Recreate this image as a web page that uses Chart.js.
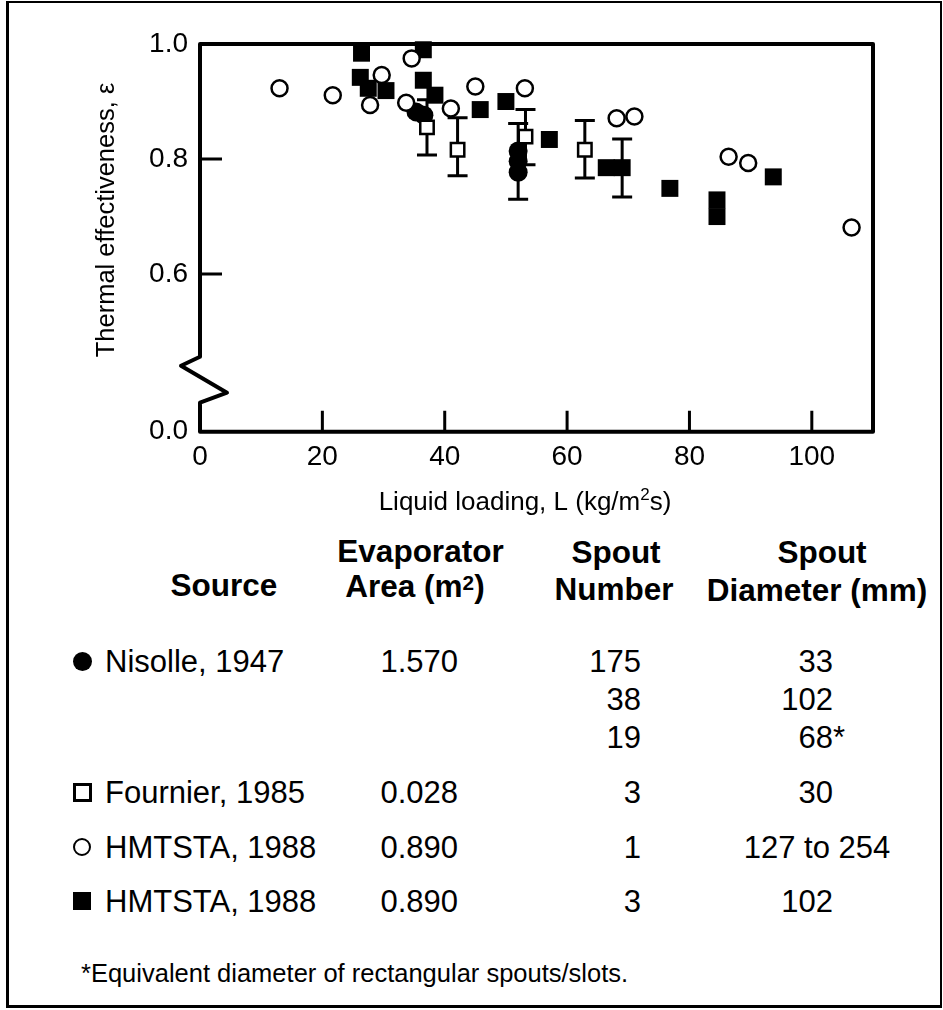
<!DOCTYPE html>
<html>
<head>
<meta charset="utf-8">
<script src="https://cdn.jsdelivr.net/npm/chart.js@4/dist/chart.umd.min.js"></script>
<style>
html, body { margin: 0; padding: 0; background: #fff; }
#wrap { position: relative; width: 943px; height: 1010px; overflow: hidden; background: #fff;
  font-family: "Liberation Sans", Arial, Helvetica, sans-serif; color: #000; }
#c { position: absolute; left: 0; top: 0; }
.t { position: absolute; white-space: nowrap; line-height: 1; }
.t sup { font-size: 0.66em; line-height: 0; vertical-align: 7px; }
.star { position: absolute; }
#frame { position: absolute; left: 6px; top: 1px; width: 931px; height: 1002px; border: 3px solid #000; border-top-width: 2px; border-right-width: 2px; }
.mk { position: absolute; box-sizing: border-box; }
</style>
</head>
<body>
<div id="wrap">
  <div id="frame"></div>
  <canvas id="c" width="943" height="520" style="width:943px;height:520px"></canvas>
</div>
<script>
// ---------------- data ----------------
const xTickValues = [0, 20, 40, 60, 80, 100];
const yTickValues = [0.326, 0.6, 0.8, 1.0];   // 0.326 = axis break position, labelled "0.0"
const yTickLabels = ['0.0', '0.6', '0.8', '1.0'];

// Nisolle, 1947 (filled circles)
const nisolleX = [35.3, 36.6, 52.0, 52.0, 52.0];
const nisolleY = [0.882, 0.876, 0.814, 0.796, 0.777];
const nisolleErrLow  = [null, null, null, 0.730, null];
const nisolleErrHigh = [null, null, null, 0.862, null];

// Fournier, 1985 (open squares with error bars)
const fournierX = [37.1, 42.1, 53.2, 62.9];
const fournierY = [0.855, 0.816, 0.839, 0.816];
const fournierErrLow  = [0.807, 0.771, 0.790, 0.767];
const fournierErrHigh = [0.903, 0.872, 0.886, 0.867];

// HMTSTA, 1988 - 1 spout (open circles)
const hmtstaOpenX = [13.0, 21.7, 27.8, 29.7, 33.7, 34.6, 41.0, 45.0, 53.1, 68.1, 71.0, 86.4, 89.6, 106.5];
const hmtstaOpenY = [0.923, 0.911, 0.894, 0.946, 0.898, 0.975, 0.888, 0.926, 0.923, 0.871, 0.874, 0.804, 0.793, 0.681];

// HMTSTA, 1988 - 3 spouts (filled squares)
const hmtstaFilledX = [26.4, 26.2, 27.5, 30.4, 36.5, 36.5, 38.4, 45.8, 50.0, 57.1, 66.4, 69.0, 76.8, 84.5, 84.5, 93.7];
const hmtstaFilledY = [0.984, 0.942, 0.923, 0.919, 0.990, 0.937, 0.911, 0.886, 0.900, 0.834, 0.785, 0.785, 0.749, 0.729, 0.700, 0.769];
const hmtstaFilledErrLow  = [null, null, null, null, null, null, null, null, null, null, null, 0.734, null, null, null, null];
const hmtstaFilledErrHigh = [null, null, null, null, null, null, null, null, null, null, null, 0.835, null, null, null, null];

// Legend table
const legendHeaders = [
  ['', 'Source'],
  ['Evaporator', 'Area (m<sup>2</sup>)'],
  ['Spout', 'Number'],
  ['Spout', 'Diameter (mm)']
];
const legendSources = ['Nisolle, 1947', 'Fournier, 1985', 'HMTSTA, 1988', 'HMTSTA, 1988'];
const legendMarkers = ['filledCircle', 'openSquare', 'openCircle', 'filledSquare'];
const legendArea = ['1.570', '0.028', '0.890', '0.890'];
const legendSpoutNumber = [['175', '38', '19'], ['3'], ['1'], ['3']];
const legendSpoutDiameter = [['33', '102', '68*'], ['30'], ['127 to 254'], ['102']];
const footnote = '*Equivalent diameter of rectangular spouts/slots.';

const xTitle = ['Liquid loading, L (kg/m', '2', 's)'];
const yTitle = 'Thermal effectiveness, \u03b5';

// ---------------- chart ----------------
const FONT = '"Liberation Sans", Arial, Helvetica, sans-serif';
const toPts = (xs, ys) => xs.map((x, i) => ({ x: x, y: ys[i] }));

const decor = {
  id: 'decor',
  beforeDatasetsDraw(chart) {
    const ctx = chart.ctx, xs = chart.scales.x, ys = chart.scales.y;
    ctx.save();
    ctx.strokeStyle = '#000';
    ctx.lineWidth = 3;
    ctx.lineCap = 'butt';
    chart.data.datasets.forEach(ds => {
      if (!ds.errLow) return;
      ds.data.forEach((p, i) => {
        if (ds.errLow[i] == null) return;
        const px = xs.getPixelForValue(p.x);
        const lo = ys.getPixelForValue(ds.errLow[i]);
        const hi = ys.getPixelForValue(ds.errHigh[i]);
        ctx.beginPath();
        ctx.moveTo(px, lo); ctx.lineTo(px, hi);
        ctx.moveTo(px - 10, lo); ctx.lineTo(px + 10, lo);
        ctx.moveTo(px - 10, hi); ctx.lineTo(px + 10, hi);
        ctx.stroke();
      });
    });
    ctx.restore();
  },
  afterDraw(chart) {
    const ctx = chart.ctx;
    const { left, right, top, bottom } = chart.chartArea;
    const xs = chart.scales.x, ys = chart.scales.y;
    ctx.save();
    ctx.strokeStyle = '#000';
    ctx.lineWidth = 4;
    ctx.lineJoin = 'round';
    ctx.lineCap = 'round';
    // frame with broken y-axis
    ctx.beginPath();
    ctx.moveTo(left, bottom - 75);
    ctx.lineTo(left, top);
    ctx.lineTo(right, top);
    ctx.lineTo(right, bottom);
    ctx.lineTo(left, bottom);
    ctx.lineTo(left, bottom - 29);
    ctx.lineTo(left + 27, bottom - 39);
    ctx.lineTo(left - 19, bottom - 66);
    ctx.lineTo(left, bottom - 75);
    ctx.stroke();
    // inward ticks
    ctx.lineWidth = 3;
    ctx.lineCap = 'butt';
    ctx.beginPath();
    xTickValues.forEach(v => {
      if (v === xs.min) return;
      const px = xs.getPixelForValue(v);
      ctx.moveTo(px, bottom); ctx.lineTo(px, bottom - 21);
    });
    yTickValues.forEach(v => {
      if (v === ys.min || v === ys.max) return;
      const py = ys.getPixelForValue(v);
      ctx.moveTo(left, py); ctx.lineTo(left + 22, py);
    });
    ctx.stroke();
    // axis titles
    ctx.fillStyle = '#000';
    ctx.textBaseline = 'alphabetic';
    const f1 = '26px ' + FONT, f2 = '17px ' + FONT;
    ctx.font = f1;
    const w0 = ctx.measureText(xTitle[0]).width;
    const w2 = ctx.measureText(xTitle[2]).width;
    ctx.font = f2;
    const w1 = ctx.measureText(xTitle[1]).width;
    const total = w0 + w1 + w2;
    let x0 = 525 - total / 2;
    const base = 510;
    ctx.textAlign = 'left';
    ctx.font = f1; ctx.fillText(xTitle[0], x0, base);
    ctx.font = f2; ctx.fillText(xTitle[1], x0 + w0, base - 10);
    ctx.font = f1; ctx.fillText(xTitle[2], x0 + w0 + w1, base);
    // y title
    ctx.translate(114, 220);
    ctx.rotate(-Math.PI / 2);
    ctx.textAlign = 'center';
    ctx.font = '25.5px ' + FONT;
    ctx.fillText(yTitle, 0, 0);
    ctx.restore();
  }
};

new Chart(document.getElementById('c').getContext('2d'), {
  type: 'scatter',
  data: {
    datasets: [
      {
        label: 'HMTSTA, 1988 (1 spout)',
        data: toPts(hmtstaOpenX, hmtstaOpenY),
        pointStyle: 'circle', pointRadius: 8, borderWidth: 2.5,
        borderColor: '#000', backgroundColor: '#fff', order: 1, clip: false
      },
      {
        label: 'Fournier, 1985',
        data: toPts(fournierX, fournierY),
        errLow: fournierErrLow, errHigh: fournierErrHigh,
        pointStyle: 'rect', pointRadius: 9.5, borderWidth: 2.5,
        borderColor: '#000', backgroundColor: '#fff', order: 2, clip: false
      },
      {
        label: 'Nisolle, 1947',
        data: toPts(nisolleX, nisolleY),
        errLow: nisolleErrLow, errHigh: nisolleErrHigh,
        pointStyle: 'circle', pointRadius: 9.5, borderWidth: 0,
        borderColor: '#000', backgroundColor: '#000', order: 3, clip: false
      },
      {
        label: 'HMTSTA, 1988 (3 spouts)',
        data: toPts(hmtstaFilledX, hmtstaFilledY),
        errLow: hmtstaFilledErrLow, errHigh: hmtstaFilledErrHigh,
        pointStyle: 'rect', pointRadius: 12, borderWidth: 0,
        borderColor: '#000', backgroundColor: '#000', order: 4, clip: false
      }
    ]
  },
  options: {
    responsive: false,
    animation: false,
    events: [],
    layout: { padding: { top: 44, right: 70, bottom: 0, left: 0 } },
    plugins: { legend: { display: false }, tooltip: { enabled: false } },
    scales: {
      x: {
        type: 'linear', min: 0, max: 110,
        afterBuildTicks: s => { s.ticks = xTickValues.map(v => ({ value: v })); },
        afterFit: s => { s.height = 88.3; },
        grid: { display: false, drawTicks: false },
        border: { display: false },
        ticks: { padding: 9, color: '#000', font: { family: FONT, size: 28 }, maxRotation: 0, autoSkip: false }
      },
      y: {
        type: 'linear', min: yTickValues[0], max: 1.0,
        afterBuildTicks: s => { s.ticks = yTickValues.map(v => ({ value: v })); },
        afterFit: s => { s.width = 200; },
        grid: { display: false, drawTicks: false },
        border: { display: false },
        ticks: {
          padding: 12, color: '#000', font: { family: FONT, size: 28 }, autoSkip: false,
          callback: (v, i) => yTickLabels[i]
        }
      }
    }
  },
  plugins: [decor]
});

// ---------------- legend table (HTML text) ----------------
const wrap = document.getElementById('wrap');
function addText(html, x, baseline, size, align, bold) {
  const d = document.createElement('div');
  d.className = 't';
  d.innerHTML = html;
  d.style.fontSize = size + 'px';
  d.style.fontWeight = bold ? 'bold' : 'normal';
  d.style.top = (baseline - 0.8465 * size) + 'px';
  if (align === 'right') d.style.right = (943 - x) + 'px';
  else if (align === 'center') { d.style.left = x + 'px'; d.style.transform = 'translateX(-50%)'; }
  else d.style.left = x + 'px';
  wrap.appendChild(d);
}
function addMarker(kind, cx, cy) {
  const m = document.createElement('div');
  m.className = 'mk';
  let s;
  if (kind === 'filledCircle') { s = 19; m.style.background = '#000'; m.style.borderRadius = '50%'; }
  if (kind === 'openCircle') { s = 18; m.style.border = '2.5px solid #000'; m.style.borderRadius = '50%'; }
  if (kind === 'openSquare') { s = 19; m.style.border = '3px solid #000'; }
  if (kind === 'filledSquare') { s = 18; m.style.background = '#000'; }
  m.style.width = s + 'px'; m.style.height = s + 'px';
  m.style.left = (cx - s / 2) + 'px'; m.style.top = (cy - s / 2) + 'px';
  wrap.appendChild(m);
}

// headers
const HS = 31.5;
const headerCols = [
  { x: [0, 224], base: [563, 597] },
  { x: [420.5, 415], base: [563, 598] },
  { x: [616, 614], base: [564, 601] },
  { x: [822, 817], base: [564, 602] }
];
legendHeaders.forEach((lines, c) => {
  lines.forEach((txt, l) => {
    if (txt) addText(txt, headerCols[c].x[l], headerCols[c].base[l], HS, 'center', true);
  });
});

// rows
const RS = 31;
const rowBase = [672, 803, 858, 912];
const subStep = 38;
legendSources.forEach((src, r) => {
  const b = rowBase[r];
  addMarker(legendMarkers[r], 82, b - 11);
  addText(src, 105, b, RS, 'left', false);
  addText(legendArea[r], 458, b, RS, 'right', false);
  legendSpoutNumber[r].forEach((v, k) => addText(v, 641, b + k * subStep, RS, 'right', false));
  legendSpoutDiameter[r].forEach((v, k) => {
    if (v.indexOf(' ') >= 0) addText(v, 817, b + k * subStep, RS, 'center', false);
    else addText(v.replace('*', '<span class="star">*</span>'), 833, b + k * subStep, RS, 'right', false);
  });
});
addText(footnote, 81, 983, 25.5, 'left', false);
</script>
</body>
</html>
